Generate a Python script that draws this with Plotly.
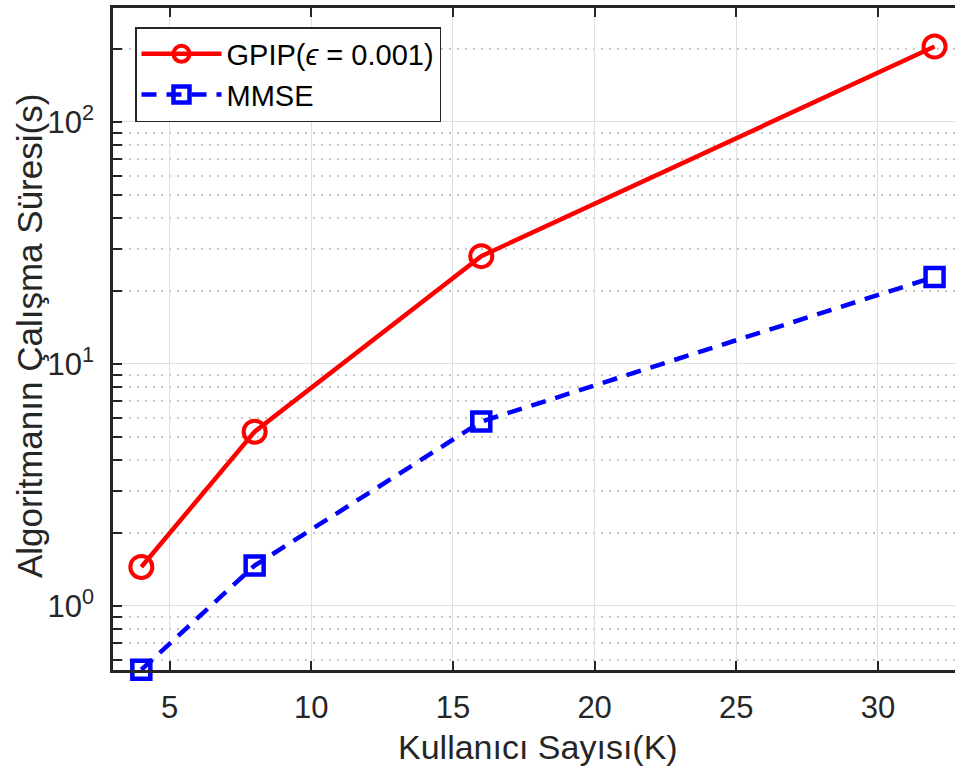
import plotly.graph_objects as go

K = [4, 8, 16, 32]
gpip = [1.45, 5.25, 27.9, 205]
mmse = [0.545, 1.47, 5.78, 22.9]

x_ticks = [5, 10, 15, 20, 25, 30]
y_major = [1, 10, 100]
y_major_text = ["10<sup>0</sup>", "10<sup>1</sup>", "10<sup>2</sup>"]
y_minor = [0.6, 0.7, 0.8, 0.9, 2, 3, 4, 5, 6, 7, 8, 9, 20, 30, 40, 50, 60, 70, 80, 90, 200]

W, H = 955, 771
L, T, B = 113, 8, 101
AX = "#262626"
FONT = "Liberation Sans, Arial, Helvetica, sans-serif"

fig = go.Figure()
fig.add_trace(go.Scatter(
    x=K, y=gpip, mode="lines+markers", name="GPIP(<i>ϵ</i> = 0.001)",
    line=dict(color="#ff0000", width=4.5),
    marker=dict(symbol="circle-open", size=22, color="#ff0000", line=dict(width=4, color="#ff0000")),
    cliponaxis=False,
))
fig.add_trace(go.Scatter(
    x=K, y=mmse, mode="lines+markers", name="MMSE",
    line=dict(color="#0000ff", width=4.5, dash="15px,10px"),
    marker=dict(symbol="square-open", size=18, color="#0000ff", line=dict(width=4.5, color="#0000ff")),
    cliponaxis=False,
))

x_right = 3 + (W - L) / 28.33
PH = H - B - T
fig.update_layout(
    width=W, height=H,
    margin=dict(l=L, r=0, t=T, b=B),
    paper_bgcolor="white", plot_bgcolor="white",
    font=dict(family=FONT, color=AX),
    showlegend=True,
    legend=dict(
        x=(135 - L) / (W - L), y=(H - B - 27) / PH, xanchor="left", yanchor="top",
        bgcolor="white", bordercolor=AX, borderwidth=1.5,
        font=dict(size=29, color="black", family=FONT), itemwidth=80,
    ),
    xaxis=dict(
        range=[3, x_right], tickvals=x_ticks, ticks="inside", ticklen=9, tickwidth=2,
        tickcolor=AX, showline=True, linecolor=AX, linewidth=2.5, mirror="allticks",
        showgrid=True, gridcolor="#e0e0e0", gridwidth=1.2, zeroline=False,
        tickfont=dict(size=31, color=AX), ticklabelstandoff=8,
    ),
    yaxis=dict(
        type="log", range=[-0.2645, 2.471], tickvals=y_major, ticktext=y_major_text,
        ticks="inside", ticklen=9, tickwidth=2, tickcolor=AX,
        showline=True, linecolor=AX, linewidth=2.5, mirror=False,
        showgrid=True, gridcolor="#e0e0e0", gridwidth=1.2, zeroline=False,
        tickfont=dict(size=31, color=AX), ticklabelstandoff=10,
        minor=dict(tickvals=y_minor, ticks="inside", ticklen=9, tickwidth=1.5, tickcolor=AX,
                   showgrid=True, gridcolor="#c8c8c8", griddash="2px,6px", gridwidth=1.5),
    ),
    annotations=[
        dict(text="Kullanıcı Sayısı(K)", xref="x", yref="paper", x=18,
             y=-(746.7 - (H - B)) / PH, xanchor="center", yanchor="middle",
             showarrow=False, font=dict(size=34, color=AX, family=FONT)),
        dict(text="Algoritmanın Çalışma Süresi(s)", xref="paper", yref="paper",
             x=(29 - L) / (W - L), y=(H - B - 336) / PH, xanchor="center", yanchor="middle",
             textangle=-90, showarrow=False, font=dict(size=35, color=AX, family=FONT)),
    ],
)

fig.write_html("out.html", config={"displayModeBar": False},
               post_script="document.body.style.margin='0';document.body.style.overflow='hidden';")
